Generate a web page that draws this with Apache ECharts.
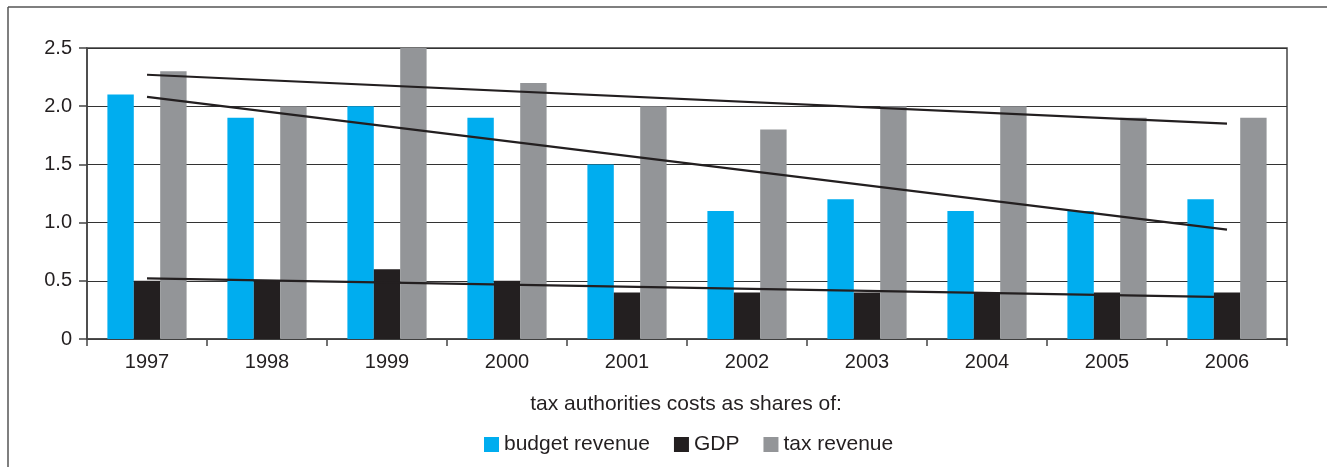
<!DOCTYPE html>
<html><head><meta charset="utf-8">
<script src="https://cdn.jsdelivr.net/npm/echarts@6/dist/echarts.min.js"></script>
<style>html,body{margin:0;padding:0;background:#fff}#c{width:1327px;height:467px}</style>
</head><body><div id="c"></div>
<script>
const categories = ['1997','1998','1999','2000','2001','2002','2003','2004','2005','2006'];
const budgetRevenue = [2.1, 1.9, 2.0, 1.9, 1.5, 1.1, 1.2, 1.1, 1.1, 1.2];
const gdp = [0.5, 0.5, 0.6, 0.5, 0.4, 0.4, 0.4, 0.4, 0.4, 0.4];
const taxRevenue = [2.3, 2.0, 2.5, 2.2, 2.0, 1.8, 2.0, 2.0, 1.9, 1.9];
// trend line end points (first and last category)
const trendBudget = [2.08, 0.94];
const trendGdp = [0.52, 0.36];
const trendTax = [2.27, 1.85];
const yTicks = ['0','0.5','1.0','1.5','2.0','2.5'];

function trendData(ends){
  const d = categories.map(() => null);
  d[0] = ends[0]; d[d.length-1] = ends[1];
  return d;
}
const font = '"Liberation Sans", Arial, Helvetica, sans-serif';
const ink = '#231f20';
const chart = echarts.init(document.getElementById('c'));
const trendStyle = {type:'line', connectNulls:true, symbol:'none', silent:true,
  lineStyle:{color:ink, width:2.2}, z:5};
chart.setOption({
  animation:false,
  textStyle:{fontFamily:font},
  grid:{left:87, right:40, top:48, bottom:128, show:true, borderColor:'#444', borderWidth:1.5, backgroundColor:'transparent'},
  graphic:[
    {type:'line', shape:{x1:8, y1:7, x2:1327, y2:7}, style:{stroke:'#555', lineWidth:1.5}},
    {type:'line', shape:{x1:8, y1:7, x2:8, y2:467}, style:{stroke:'#555', lineWidth:1.5}},
    {type:'text', x:686, y:404, style:{text:'tax authorities costs as shares of:', fill:ink, font:'21px ' + font, textAlign:'center', textVerticalAlign:'middle'}}
  ],
  legend:{left:479, top:429, icon:'rect', itemWidth:15, itemHeight:15, itemGap:24,
    data:['budget revenue','GDP','tax revenue'],
    textStyle:{fontSize:21, color:ink, fontFamily:font}},
  xAxis:{type:'category', data:categories,
    axisLine:{lineStyle:{color:'#444', width:1.5}},
    axisTick:{show:true, length:7, lineStyle:{color:'#444', width:1.5}},
    axisLabel:{fontSize:20, color:ink, margin:13}},
  yAxis:{type:'value', min:0, max:2.5, interval:0.5,
    axisLine:{show:true, lineStyle:{color:'#444', width:1.5}},
    axisTick:{show:true, length:8, lineStyle:{color:'#444', width:1.5}},
    splitLine:{lineStyle:{color:'#333', width:1.2}},
    axisLabel:{fontSize:20, color:ink, margin:15,
      formatter:(v)=> yTicks[Math.round(v/0.5)]}},
  series:[
    {name:'budget revenue', type:'bar', data:budgetRevenue, itemStyle:{color:'#00adef'}, barGap:'0%', barCategoryGap:'34%'},
    {name:'GDP', type:'bar', data:gdp, itemStyle:{color:ink}},
    {name:'tax revenue', type:'bar', data:taxRevenue, itemStyle:{color:'#939598'}},
    Object.assign({name:'trend tax', data:trendData(trendTax)}, trendStyle),
    Object.assign({name:'trend budget', data:trendData(trendBudget)}, trendStyle),
    Object.assign({name:'trend gdp', data:trendData(trendGdp)}, trendStyle)
  ]
});
</script></body></html>
